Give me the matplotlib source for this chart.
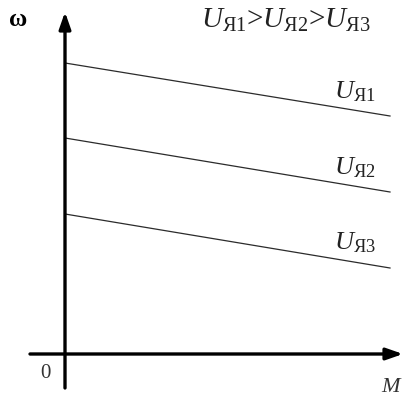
import matplotlib.pyplot as plt

plt.rcParams['mathtext.fontset'] = 'custom'
plt.rcParams['mathtext.rm'] = 'Liberation Serif'
plt.rcParams['mathtext.it'] = 'Liberation Serif:italic'
plt.rcParams['font.family'] = ['Liberation Serif', 'DejaVu Serif']

# characteristic lines: omega vs M
M = [0, 325]
omega_1 = [291, 238]
omega_2 = [216, 162]
omega_3 = [140, 86]
labels = [r'$U_{\mathrm{Я1}}$', r'$U_{\mathrm{Я2}}$', r'$U_{\mathrm{Я3}}$']

fig = plt.figure(figsize=(4.03, 3.99), dpi=100)
ax = fig.add_axes([0, 0, 1, 1])
ax.set_xlim(-65, 338)
ax.set_ylim(-45, 354)
ax.axis('off')

for w, lab, ly in zip([omega_1, omega_2, omega_3], labels, [262, 186, 111]):
    ax.plot(M, w, color='#2b2b2b', lw=0.9)
    ax.text(290, ly, lab, fontsize=19, ha='center', va='center', color='#222222')

# axes with arrows
arrow = dict(arrowstyle='-|>,head_length=1.0,head_width=0.35', color='black', lw=2.4,
             shrinkA=0, shrinkB=0)
ax.annotate('', xy=(0, 342), xytext=(0, -34), arrowprops=arrow)
ax.annotate('', xy=(338, 0), xytext=(-35, 0), arrowprops=arrow)

ax.text(-47, 334, 'ω', fontsize=18, ha='center', va='center', fontweight='bold')
ax.text(-20, -19, '0', fontsize=15, ha='center', va='center', color='#333333')
ax.text(327, -33, r'$M$', fontsize=16, ha='center', va='center', color='#333333')
ax.text(221, 334, r'$U_{\mathrm{Я1}}$>$U_{\mathrm{Я2}}$>$U_{\mathrm{Я3}}$', fontsize=21,
        ha='center', va='center', color='#222222')

fig.savefig('out.png', dpi=100)
